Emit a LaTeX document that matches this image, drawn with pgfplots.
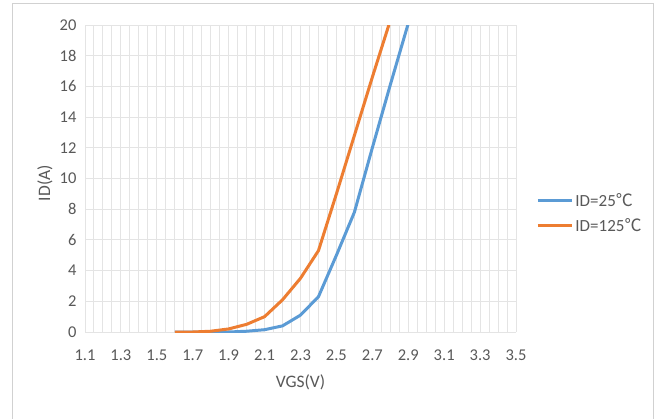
\documentclass[border=0pt]{standalone}
\usepackage{pgfplots}
\pgfplotsset{compat=1.18}
\usepackage{fontspec}
\setmainfont{Carlito}
\newfontfamily\cjk{Noto Sans CJK SC}
\definecolor{blueS}{HTML}{5B9BD5}
\definecolor{orangeS}{HTML}{ED7D31}
\definecolor{gridc}{HTML}{E4E4E4}
\definecolor{txt}{HTML}{595959}
\begin{document}
\begin{tikzpicture}[x=1pt,y=1pt]
\useasboundingbox (0,0) rectangle (660,418);
\fill[white] (0,0) rectangle (660,418);
\draw[color=black!18, line width=1pt] (12,-5) rectangle (653,414);
\begin{axis}[
  at={(85pt,86pt)}, anchor=south west, scale only axis,
  width=431pt, height=307pt,
  xmin=1.1, xmax=3.5, ymin=0, ymax=20,
  xtick={1.1,1.3,...,3.5}, minor x tick num=3,
  ytick={0,2,...,20},
  axis line style={draw=none},
  major tick length=0pt, minor tick length=0pt,
  xmajorgrids=true, xminorgrids=true, ymajorgrids=true,
  grid style={gridc, line width=1pt},
  minor grid style={gridc, line width=1pt},
  tick label style={font=\fontsize{16.5}{18}\selectfont, text=txt},
  /pgf/number format/assume math mode=true,
  xticklabel style={/pgf/number format/.cd, fixed, fixed zerofill, precision=1},
  yticklabel style={/pgf/number format/.cd, fixed, precision=0},
  xticklabel shift=14pt, yticklabel shift=5pt,
  xlabel={VGS(V)}, ylabel={ID(A)},
  label style={font=\fontsize{17.5}{20}\selectfont, text=txt},
  xlabel style={at={(axis description cs:0.5,-0.163)}, anchor=center},
  ylabel style={at={(axis description cs:-0.093,0.485)}, anchor=center, rotate=0},
  legend style={at={(axis description cs:1.047,0.387)}, anchor=west,
    draw=none, fill=none, font=\fontsize{17}{19}\selectfont, text=txt,
    row sep=7pt, inner sep=0pt},
  legend cell align=left,
  legend image code/.code={\draw[#1, line width=3pt] (0pt,0pt) -- (34pt,0pt);},
  clip=true,
]
\addplot[blueS, line width=3pt, line join=round] coordinates {
 (1.6,0) (1.7,0) (1.8,0) (1.9,0) (2.0,0.05) (2.1,0.15) (2.2,0.4) (2.3,1.1)
 (2.4,2.3) (2.5,5.0) (2.6,7.8) (2.7,12.0) (2.8,16.1) (2.9,20.1)
};
\addlegendentry{ID=25{\cjk ℃}}
\addplot[orangeS, line width=3pt, line join=round] coordinates {
 (1.6,0) (1.7,0) (1.8,0.05) (1.9,0.2) (2.0,0.5) (2.1,1.0) (2.2,2.1) (2.3,3.5)
 (2.4,5.3) (2.5,9.0) (2.6,12.8) (2.7,16.6) (2.8,20.3)
};
\addlegendentry{ID=125{\cjk ℃}}
\end{axis}
\end{tikzpicture}
\end{document}
